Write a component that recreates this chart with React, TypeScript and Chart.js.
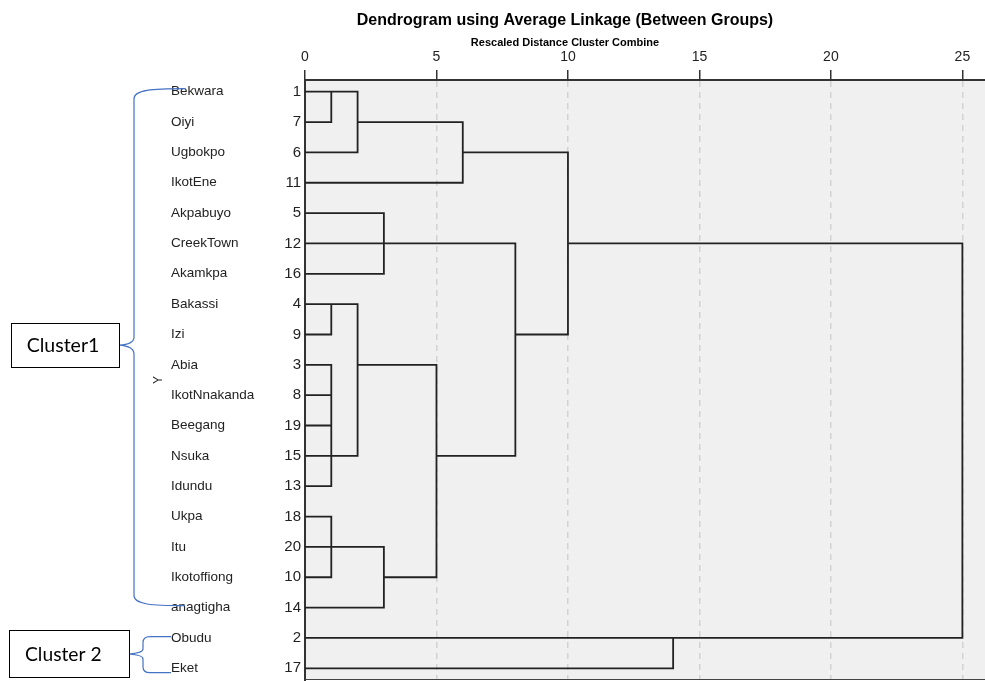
import React, { useEffect, useRef } from 'react';
import { Chart, registerables } from 'chart.js';

Chart.register(...registerables);

// ---- data ----
const leafNames = ['Bekwara', 'Oiyi', 'Ugbokpo', 'IkotEne', 'Akpabuyo', 'CreekTown', 'Akamkpa', 'Bakassi', 'Izi', 'Abia', 'IkotNnakanda', 'Beegang', 'Nsuka', 'Idundu', 'Ukpa', 'Itu', 'Ikotoffiong', 'anagtigha', 'Obudu', 'Eket'];
const leafIds = ['1', '7', '6', '11', '5', '12', '16', '4', '9', '3', '8', '19', '15', '13', '18', '20', '10', '14', '2', '17'];
// merges: node ids 0..19 are leaves, merge k creates node 20+k
const mergeChildren = [[0, 1], [20, 2], [21, 3], [4, 5, 6], [7, 8], [9, 10, 11, 12, 13], [24, 25], [14, 15, 16], [27, 17], [26, 28], [23, 29], [22, 30], [18, 19], [31, 32]];
const mergeHeights = [1, 2, 6, 3, 1, 1, 2, 1, 3, 5, 8, 10, 14, 25];
const mergeRows = [0, 1, 2, 5, 7, 12, 9, 15, 16, 12, 8, 5, 18, 11];
const distanceTicks = [0, 5, 10, 15, 20, 25];
const clusterNames = ['Cluster1', 'Cluster 2'];
const clusterRows = [[0, 17], [18, 19]];

const FONT = "'Liberation Sans', Arial, sans-serif";

function buildSegments() {
  const nodeRow: number[] = leafNames.map((_, i) => i);
  const nodeH: number[] = leafNames.map(() => 0);
  mergeChildren.forEach((_, k) => {
    nodeRow.push(mergeRows[k]);
    nodeH.push(mergeHeights[k]);
  });
  const pts: any[] = [];
  mergeChildren.forEach((ch, k) => {
    const H = mergeHeights[k];
    const sorted = [...ch].sort((a, b) => nodeRow[a] - nodeRow[b]);
    const first = sorted[0];
    const last = sorted[sorted.length - 1];
    pts.push(
      { x: nodeH[first], y: nodeRow[first] },
      { x: H, y: nodeRow[first] },
      { x: H, y: nodeRow[last] },
      { x: nodeH[last], y: nodeRow[last] },
      { x: null, y: null }
    );
    sorted.slice(1, -1).forEach((c) => {
      pts.push({ x: nodeH[c], y: nodeRow[c] }, { x: H, y: nodeRow[c] }, { x: null, y: null });
    });
  });
  return pts;
}

const bgPlugin = {
  id: 'plotBg',
  beforeDraw(chart: any) {
    const { ctx, chartArea: a } = chart;
    ctx.save();
    ctx.fillStyle = '#f0f0f0';
    ctx.fillRect(a.left, a.top, a.right - a.left, a.bottom - a.top);
    ctx.restore();
  },
  afterDraw(chart: any) {
    const { ctx, chartArea: a } = chart;
    ctx.save();
    ctx.strokeStyle = '#444';
    ctx.lineWidth = 1;
    ctx.beginPath();
    ctx.moveTo(a.left, a.bottom - 0.5);
    ctx.lineTo(a.right, a.bottom - 0.5);
    ctx.stroke();
    ctx.restore();
  },
};

function drawBox(ctx: any, text: string, right: number, width: number, cy: number, height: number, textW: number, textCx: number) {
  const left = right - width;
  ctx.save();
  ctx.fillStyle = '#ffffff';
  ctx.fillRect(left, cy - height / 2, width, height);
  ctx.strokeStyle = '#000';
  ctx.lineWidth = 1;
  ctx.strokeRect(Math.round(left) + 0.5, Math.round(cy - height / 2) + 0.5, Math.round(width), Math.round(height));
  ctx.font = "20px Lato, 'Noto Sans', sans-serif";
  const w = ctx.measureText(text).width;
  const size = (20 * textW) / w;
  ctx.font = `${size.toFixed(2)}px Lato, 'Noto Sans', sans-serif`;
  ctx.fillStyle = '#000';
  ctx.textAlign = 'center';
  ctx.textBaseline = 'middle';
  ctx.fillText(text, textCx, cy + 1);
  ctx.restore();
}

const clusterPlugin = {
  id: 'clusters',
  afterDraw(chart: any) {
    const { ctx } = chart;
    const ys = chart.scales.y;
    ctx.save();
    ctx.strokeStyle = '#4472c4';
    ctx.lineWidth = 1.2;
    // brace 1
    const t1 = ys.getPixelForValue(clusterRows[0][0]) - 3;
    const b1 = ys.getPixelForValue(clusterRows[0][1]) - 2;
    const m1 = (t1 + b1) / 2 - 2;
    ctx.beginPath();
    ctx.moveTo(185, t1);
    ctx.bezierCurveTo(152, t1, 134, t1 + 1, 134, t1 + 10);
    ctx.lineTo(134, m1 - 8);
    ctx.quadraticCurveTo(134, m1 - 1, 119, m1);
    ctx.quadraticCurveTo(134, m1 + 1, 134, m1 + 9);
    ctx.lineTo(134, b1 - 10);
    ctx.bezierCurveTo(134, b1 - 1, 152, b1, 185, b1);
    ctx.stroke();
    // brace 2
    const t2 = ys.getPixelForValue(clusterRows[1][0]) - 1.3;
    const b2 = ys.getPixelForValue(clusterRows[1][1]) + 4.4;
    const m2 = (t2 + b2) / 2 - 0.7;
    ctx.beginPath();
    ctx.moveTo(171, t2);
    ctx.lineTo(150, t2);
    ctx.quadraticCurveTo(143, t2, 143, t2 + 6);
    ctx.lineTo(143, m2 - 5);
    ctx.quadraticCurveTo(143, m2 - 1, 129, m2);
    ctx.quadraticCurveTo(143, m2 + 1, 143, m2 + 5);
    ctx.lineTo(143, b2 - 6);
    ctx.quadraticCurveTo(143, b2, 150, b2);
    ctx.lineTo(171, b2);
    ctx.stroke();
    ctx.restore();
    drawBox(ctx, clusterNames[0], 119, 108, m1, 44, 72.7, 63);
    drawBox(ctx, clusterNames[1], 129, 120, m2, 47, 76.7, 63.3);
  },
};

const noPad = (s: any, w: number) => {
  s.width = w;
  s.paddingTop = 0;
  s.paddingBottom = 0;
};

export default function App() {
  const ref = useRef<HTMLCanvasElement>(null);
  useEffect(() => {
    document.body.style.margin = '0';
    const canvas = ref.current!;
    const pts = buildSegments();
    const rowTicks = () => leafNames.map((_, i) => ({ value: i }));
    const yMin = -0.385;
    const yMax = 19.385;
    const chart = new Chart(canvas, {
      type: 'line',
      data: {
        datasets: [
          {
            data: pts,
            borderColor: '#222',
            borderWidth: 1.8,
            pointRadius: 0,
            pointHoverRadius: 0,
            tension: 0,
            fill: false,
            spanGaps: false,
            borderJoinStyle: 'miter',
            xAxisID: 'x',
            yAxisID: 'y',
          } as any,
        ],
      },
      options: {
        responsive: false,
        animation: false,
        devicePixelRatio: 1,
        events: [],
        layout: { padding: { left: 145, right: 0, top: 0, bottom: 1 } },
        plugins: {
          legend: { display: false },
          tooltip: { enabled: false },
          title: {
            display: true,
            text: 'Dendrogram using Average Linkage (Between Groups)',
            color: '#000',
            font: { family: FONT, size: 16, weight: 'bold', lineHeight: 1.2 },
            padding: { top: 11, bottom: 3 },
          },
          subtitle: {
            display: true,
            text: 'Rescaled Distance Cluster Combine',
            color: '#000',
            font: { family: FONT, size: 11, weight: 'bold', lineHeight: 1.2 },
            padding: { top: 3, bottom: 0 },
          },
        },
        scales: {
          x: {
            type: 'linear',
            position: 'top',
            min: 0,
            max: 25.86,
            afterBuildTicks: (s: any) => {
              s.ticks = distanceTicks.map((v) => ({ value: v }));
            },
            afterFit: (s: any) => {
              s.height = 30.6;
              s.paddingLeft = 0;
              s.paddingRight = 0;
            },
            ticks: { font: { family: FONT, size: 14 }, color: '#222', padding: 4, maxRotation: 0, autoSkip: false },
            grid: {
              color: (c: any) => (c.tick && c.tick.value === 0 ? 'rgba(0,0,0,0)' : '#d2d2d2'),
              lineWidth: 1.5,
              tickColor: '#333',
              tickWidth: 1.5,
              tickLength: 10,
              drawTicks: true,
            },
            border: { display: true, color: '#333', width: 2, dash: [6, 5] },
          },
          y: {
            type: 'linear',
            position: 'left',
            weight: 0,
            reverse: true,
            min: yMin,
            max: yMax,
            afterBuildTicks: (s: any) => {
              s.ticks = rowTicks();
            },
            afterFit: (s: any) => noPad(s, 20),
            ticks: {
              autoSkip: false,
              font: { family: FONT, size: 15 },
              color: '#222',
              padding: 4,
              callback: (v: any) => leafIds[Math.round(Number(v))] ?? '',
            },
            grid: { display: false, drawTicks: false },
            border: { display: true, color: '#333', width: 2 },
          },
          yn: {
            type: 'linear',
            position: 'left',
            weight: 1,
            reverse: true,
            min: yMin,
            max: yMax,
            afterBuildTicks: (s: any) => {
              s.ticks = rowTicks();
            },
            afterFit: (s: any) => noPad(s, 114),
            ticks: {
              autoSkip: false,
              crossAlign: 'far',
              font: { family: FONT, size: 13.5 },
              color: '#222',
              padding: 0,
              callback: (v: any) => leafNames[Math.round(Number(v))] ?? '',
            },
            grid: { display: false, drawTicks: false },
            border: { display: false },
          },
          yt: {
            type: 'linear',
            position: 'left',
            weight: 2,
            min: 0,
            max: 1,
            afterFit: (s: any) => noPad(s, 26),
            ticks: { display: false },
            grid: { display: false, drawTicks: false },
            border: { display: false },
            title: { display: true, text: 'Y', color: '#222', font: { family: FONT, size: 12 }, padding: { top: 6, bottom: 0 } },
          },
        },
      } as any,
      plugins: [bgPlugin, clusterPlugin],
    });
    return () => chart.destroy();
  }, []);
  return <canvas ref={ref} width={985} height={681} style={{ display: 'block' }} />;
}
